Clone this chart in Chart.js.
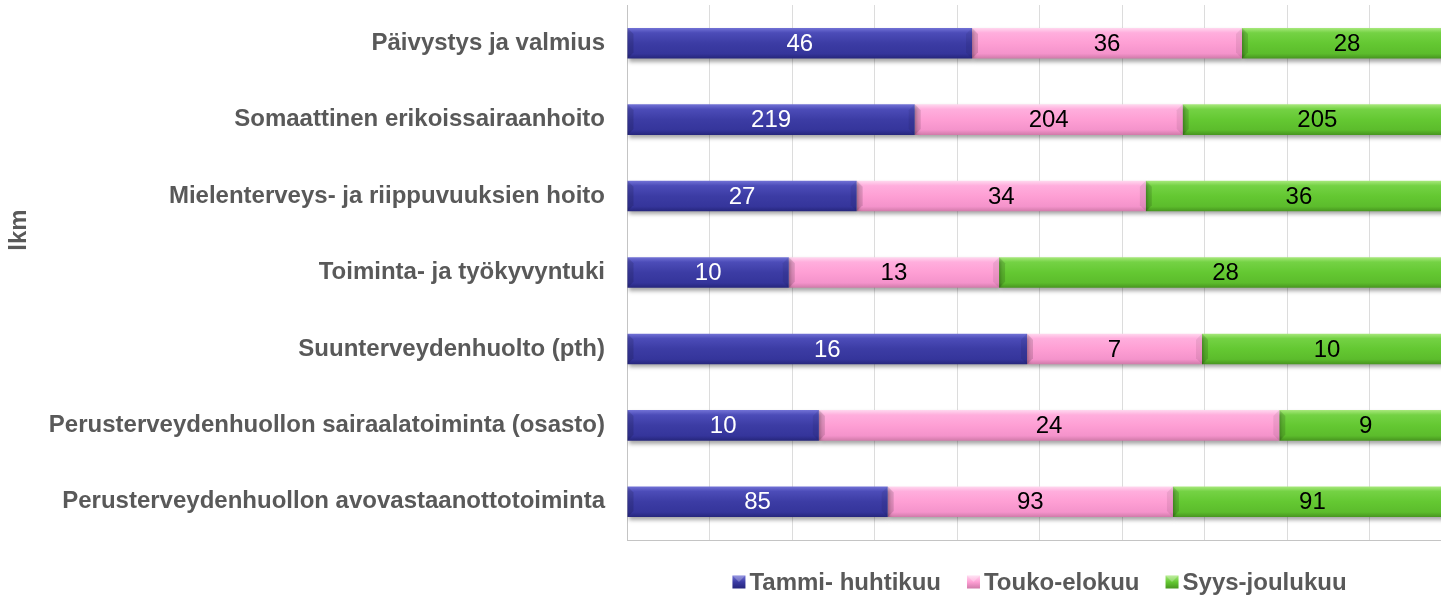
<!DOCTYPE html>
<html>
<head>
<meta charset="utf-8">
<script src="https://cdn.jsdelivr.net/npm/chart.js@4"></script>
<style>
html,body{margin:0;padding:0;background:#fff;overflow:hidden;}
#wrap{width:1460px;height:597px;}
</style>
</head>
<body>
<div id="wrap"><canvas id="c" width="1460" height="597"></canvas></div>
<script>
const categories = [
  'Päivystys ja valmius',
  'Somaattinen erikoissairaanhoito',
  'Mielenterveys- ja riippuvuuksien hoito',
  'Toiminta- ja työkyvyntuki',
  'Suunterveydenhuolto (pth)',
  'Perusterveydenhuollon sairaalatoiminta (osasto)',
  'Perusterveydenhuollon avovastaanottotoiminta'
];
const seriesNames = ['Tammi- huhtikuu', 'Touko-elokuu', 'Syys-joulukuu'];
const tammiHuhti = [46, 219, 27, 10, 16, 10, 85];
const toukoElo   = [36, 204, 34, 13, 7, 24, 93];
const syysJoulu  = [28, 205, 36, 28, 10, 9, 91];
const yAxisTitle = 'lkm';

const rawSeries = [tammiHuhti, toukoElo, syysJoulu];
const totals = categories.map((_, i) => rawSeries.reduce((s, arr) => s + arr[i], 0));
const pct = arr => arr.map((v, i) => v / totals[i] * 100);

const palettes = [
  {stops:['#7272d6','#4c4cb8','#3c3ca4','#35359b','#26267c'], label:'#ffffff'},
  {stops:['#ffd8ef','#ffaedd','#fe9fd4','#f493cb','#d07aa9'], label:'#000000'},
  {stops:['#a8e87c','#74d244','#64c832','#5cbc2c','#47951f'], label:'#000000'}
];

const FONT = '"Liberation Sans", Arial, sans-serif';
const FS = 24;

function makeGrad(chart, dsIndex, idx) {
  const ys = chart.scales.y;
  const ca = chart.chartArea;
  if (!ys || !ca) return palettes[dsIndex].stops[2];
  const cy = ys.getPixelForValue(idx);
  const h = (ca.bottom - ca.top) / categories.length * 0.4;
  const g = chart.ctx.createLinearGradient(0, cy - h / 2, 0, cy + h / 2);
  const s = palettes[dsIndex].stops;
  g.addColorStop(0, s[0]);
  g.addColorStop(0.16, s[1]);
  g.addColorStop(0.5, s[2]);
  g.addColorStop(0.84, s[3]);
  g.addColorStop(1, s[4]);
  return g;
}

const datasets = rawSeries.map((arr, d) => ({
  label: seriesNames[d],
  data: pct(arr),
  raw: arr,
  backgroundColor: ctx => makeGrad(ctx.chart, d, ctx.dataIndex),
  borderWidth: 0,
  barPercentage: 0.4,
  categoryPercentage: 1.0
}));

const shadowPlugin = {
  id: 'shadow',
  beforeDatasetsDraw(chart) {
    const c = chart.ctx;
    c.save();
    c.shadowColor = 'rgba(0,0,0,0.35)';
    c.shadowBlur = 4;
    c.shadowOffsetX = 1;
    c.shadowOffsetY = 3;
  },
  afterDatasetsDraw(chart) {
    const c = chart.ctx;
    c.restore();
    chart.data.datasets.forEach((ds, d) => {
      const meta = chart.getDatasetMeta(d);
      meta.data.forEach((el, i) => {
        const left = Math.min(el.x, el.base), right = Math.max(el.x, el.base);
        const top = el.y - el.height / 2, bot = el.y + el.height / 2;
        const b = 6;
        c.save();
        c.fillStyle = 'rgba(0,0,0,0.13)';
        c.beginPath();
        c.moveTo(left, top); c.lineTo(left + b, top + b); c.lineTo(left + b, bot - b); c.lineTo(left, bot); c.closePath();
        c.fill();
        c.fillStyle = 'rgba(0,0,0,0.07)';
        c.beginPath();
        c.moveTo(right, top); c.lineTo(right - b, top + b); c.lineTo(right - b, bot - b); c.lineTo(right, bot); c.closePath();
        c.fill();
        c.fillStyle = palettes[d].label;
        c.font = FS + 'px ' + FONT;
        c.textAlign = 'center';
        c.textBaseline = 'middle';
        c.fillText(String(ds.raw[i]), (left + right) / 2, el.y + 1);
        c.restore();
      });
    });
  }
};

const extrasPlugin = {
  id: 'extras',
  afterDraw(chart) {
    const c = chart.ctx;
    const ca = chart.chartArea;
    c.save();
    c.translate(19, 230);
    c.rotate(-Math.PI / 2);
    c.font = 'bold ' + FS + 'px ' + FONT;
    c.fillStyle = '#595959';
    c.textAlign = 'center';
    c.textBaseline = 'middle';
    c.fillText(yAxisTitle, 0, 0);
    c.restore();
    // legend
    c.save();
    c.font = 'bold ' + FS + 'px ' + FONT;
    const box = 13, gapT = 4, gapI = 26;
    const widths = seriesNames.map(n => c.measureText(n).width);
    const total = widths.reduce((a, w) => a + box + gapT + w, 0) + gapI * (seriesNames.length - 1);
    let x = (ca.left + ca.right) / 2 - total / 2;
    const y = 582;
    seriesNames.forEach((n, d) => {
      const s = palettes[d].stops;
      const g = c.createLinearGradient(x, y - box / 2, x, y + box / 2);
      g.addColorStop(0, s[0]); g.addColorStop(0.5, s[2]); g.addColorStop(1, s[4]);
      c.fillStyle = g;
      c.fillRect(x, y - box / 2, box, box);
      c.fillStyle = 'rgba(255,255,255,0.25)';
      c.beginPath(); c.moveTo(x, y - box/2); c.lineTo(x + box, y - box/2); c.lineTo(x + box/2, y); c.closePath(); c.fill();
      c.fillStyle = '#595959';
      c.textAlign = 'left';
      c.textBaseline = 'middle';
      c.fillText(n, x + box + gapT, y + 1);
      x += box + gapT + widths[d] + gapI;
    });
    c.restore();
  }
};

new Chart(document.getElementById('c'), {
  type: 'bar',
  data: { labels: categories, datasets },
  options: {
    indexAxis: 'y',
    responsive: false,
    animation: false,
    layout: { padding: { top: 5, right: 8, bottom: 57, left: 0 } },
    plugins: { legend: { display: false }, tooltip: { enabled: false } },
    scales: {
      x: {
        stacked: true, min: 0, max: 100,
        ticks: { display: false, stepSize: 10 },
        grid: { color: '#dcdcdc', lineWidth: 1, drawTicks: false },
        border: { display: true, color: '#c4c4c4' },
        afterFit: s => { s.height = 0; s.paddingLeft = 0; s.paddingRight = 0; }
      },
      y: {
        stacked: true,
        grid: { display: false, drawTicks: false },
        border: { display: true, color: '#c4c4c4' },
        ticks: { color: '#595959', font: { family: FONT, size: FS, weight: 'bold' }, padding: 22 },
        afterFit: s => { s.width = 627; s.paddingTop = 0; s.paddingBottom = 0; }
      }
    }
  },
  plugins: [shadowPlugin, extrasPlugin]
});
</script>
</body>
</html>
